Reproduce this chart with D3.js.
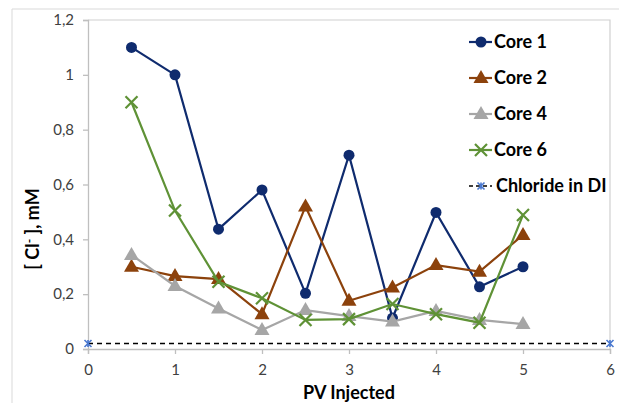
<!DOCTYPE html>
<html><head><meta charset="utf-8">
<script src="https://cdn.jsdelivr.net/npm/d3@7"></script>
<style>
html,body{margin:0;padding:0;background:#fff;}
svg{display:block;font-family:Lato,"Open Sans",sans-serif;}
</style></head>
<body>
<svg id="chart" width="619" height="403"></svg>
<script>
const pvInjected = [0.5, 1, 1.5, 2, 2.5, 3, 3.5, 4, 4.5, 5];
const core1 = [1.10, 1.00, 0.437, 0.58, 0.203, 0.707, 0.113, 0.498, 0.227, 0.30];
const core2 = [0.30, 0.266, 0.255, 0.127, 0.52, 0.176, 0.224, 0.306, 0.282, 0.416];
const core4 = [0.343, 0.23, 0.148, 0.069, 0.142, 0.12, 0.10, 0.139, 0.106, 0.091];
const core6 = [0.90, 0.505, 0.245, 0.185, 0.106, 0.109, 0.164, 0.127, 0.096, 0.489];
const chlorideX = [0, 6];
const chlorideY = [0.02, 0.02];
const xTicks = [0, 1, 2, 3, 4, 5, 6];
const yTicks = [0, 0.2, 0.4, 0.6, 0.8, 1, 1.2];
const seriesNames = ["Core 1", "Core 2", "Core 4", "Core 6", "Chloride in DI"];

(function () {
const svg = d3.select("#chart");
const pLeft = 88, pRight = 610, pTop = 20, pBottom = 349;
const x = d3.scaleLinear().domain([0, 6]).range([pLeft, pRight]);
const y = d3.scaleLinear().domain([0, 1.2]).range([pBottom, pTop]);

// outer chart border
svg.append("path").attr("d", `M12,403 L12,9 L619,9`).attr("fill", "none")
  .attr("stroke", "#d9d9d9").attr("stroke-width", 1);

// plot frame top/right
svg.append("path").attr("d", `M${pLeft},${pTop} L${pRight},${pTop} L${pRight},${pBottom}`)
  .attr("fill", "none").attr("stroke", "#d0d0d0").attr("stroke-width", 1.2);

const fmt = d => String(d).replace(".", ",");

const yAxis = svg.append("g").attr("transform", `translate(${pLeft},0)`)
  .call(d3.axisLeft(y).tickValues(yTicks).tickFormat(fmt).tickSize(5).tickPadding(9));
const xAxis = svg.append("g").attr("transform", `translate(0,${pBottom})`)
  .call(d3.axisBottom(x).tickValues(xTicks).tickFormat(fmt).tickSize(5).tickPadding(10));
[yAxis, xAxis].forEach(g => {
  g.select(".domain").attr("stroke", "#bfbfbf").attr("stroke-width", 1.3);
  g.selectAll(".tick line").attr("stroke", "#bfbfbf").attr("stroke-width", 1.3);
  g.selectAll(".tick text").attr("fill", "#404040").style("font-family", "Lato")
    .style("font-size", "15px");
});

svg.append("text").attr("x", 349).attr("y", 399).attr("text-anchor", "middle")
  .style("font-weight", "bold").style("font-size", "18px").attr("fill", "#000").text("PV Injected");
const yt = svg.append("text").attr("transform", "translate(39,229) rotate(-90)")
  .attr("text-anchor", "middle").style("font-weight", "bold").style("font-size", "18px").attr("fill", "#000");
yt.append("tspan").text("[ Cl");
yt.append("tspan").attr("dy", -6).style("font-size", "12px").text("-");
yt.append("tspan").attr("dy", 6).text(" ], mM");

function drawMarker(g, type, cx, cy, color) {
  if (type === "circle") {
    g.append("circle").attr("cx", cx).attr("cy", cy).attr("r", 5.5).attr("fill", color);
  } else if (type === "triangle") {
    g.append("path").attr("d", `M${cx},${cy-8} L${cx+7.5},${cy+5} L${cx-7.5},${cy+5} Z`).attr("fill", color);
  } else if (type === "x") {
    const s = 6;
    g.append("path").attr("d", `M${cx-s},${cy-s} L${cx+s},${cy+s} M${cx-s},${cy+s} L${cx+s},${cy-s}`)
      .attr("stroke", color).attr("stroke-width", 2.2).attr("fill", "none");
  } else if (type === "star") {
    const s = 3.5;
    g.append("path").attr("d", `M${cx-s},${cy-s} L${cx+s},${cy+s} M${cx-s},${cy+s} L${cx+s},${cy-s} M${cx},${cy-s} L${cx},${cy+s}`)
      .attr("stroke", color).attr("stroke-width", 1.6).attr("fill", "none");
  }
}

const series = [
  {name: seriesNames[0], xs: pvInjected, ys: core1, color: "#0f2b6e", marker: "circle", dash: null},
  {name: seriesNames[1], xs: pvInjected, ys: core2, color: "#8c420c", marker: "triangle", dash: null},
  {name: seriesNames[2], xs: pvInjected, ys: core4, color: "#a6a6a6", marker: "triangle", dash: null},
  {name: seriesNames[3], xs: pvInjected, ys: core6, color: "#5f9236", marker: "x", dash: null},
  {name: seriesNames[4], xs: chlorideX, ys: chlorideY, color: "#000", marker: "star", mcolor: "#4a78cf", dash: "5,4"}
];

const line = d3.line().x(d => x(d[0])).y(d => y(d[1]));
series.forEach(s => {
  const g = svg.append("g");
  const pts = s.xs.map((v, i) => [v, s.ys[i]]);
  g.append("path").datum(pts).attr("d", line).attr("fill", "none")
    .attr("stroke", s.color).attr("stroke-width", s.dash ? 1.6 : 2.2)
    .attr("stroke-dasharray", s.dash);
  pts.forEach(p => drawMarker(g, s.marker, x(p[0]), y(p[1]), s.mcolor || s.color));
});

const lg = svg.append("g");
series.forEach((s, i) => {
  const cy = 42 + i * 36;
  lg.append("line").attr("x1", 469).attr("x2", 492).attr("y1", cy).attr("y2", cy)
    .attr("stroke", s.color).attr("stroke-width", s.dash ? 1.6 : 2.2)
    .attr("stroke-dasharray", s.dash ? "4,3" : null);
  drawMarker(lg, s.marker, 481, cy, s.mcolor || s.color);
  lg.append("text").attr("x", s.dash ? 496 : 494).attr("y", cy).attr("dy", "0.36em")
    .style("font-weight", "bold").style("font-size", "18px").attr("fill", "#000").text(s.name);
});
})();
</script>
</body></html>
